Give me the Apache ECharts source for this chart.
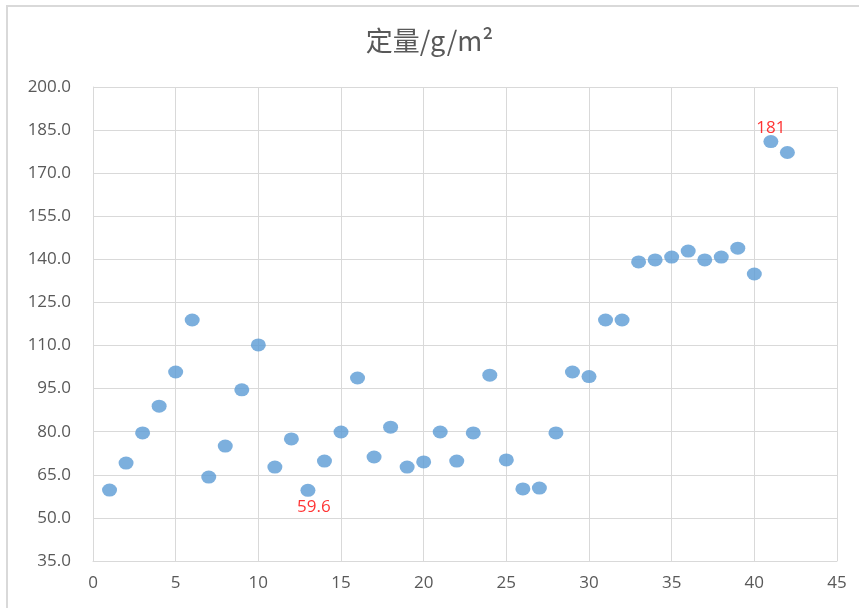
<!DOCTYPE html>
<html>
<head>
<meta charset="utf-8">
<script src="https://cdn.jsdelivr.net/npm/echarts@6/dist/echarts.min.js"></script>
<style>html,body{margin:0;padding:0;background:#fff}#c{width:859px;height:608px}</style>
</head>
<body>
<div id="c"></div>
<script>
var titleText = '定量/g/m²';
var xValues = [1,2,3,4,5,6,7,8,9,10,11,12,13,14,15,16,17,18,19,20,21,22,23,24,25,26,27,28,29,30,31,32,33,34,35,36,37,38,39,40,41,42];
var yValues = [59.7,69.1,79.6,88.9,100.8,118.9,64.2,75.0,94.6,110.2,67.7,77.5,59.6,69.8,79.9,98.7,71.2,81.6,67.7,69.5,79.9,69.8,79.6,99.7,70.2,60.1,60.4,79.6,100.8,99.2,118.9,118.9,139.1,139.8,140.8,142.9,139.8,140.8,143.9,134.9,181,177.2];
var labelledPoints = {12: 'bottom', 40: 'top'};

var data = xValues.map(function (x, i) {
  var d = {value: [x, yValues[i]]};
  if (labelledPoints[i]) {
    d.label = {show: true, position: labelledPoints[i], distance: labelledPoints[i] === 'top' ? -2 : 2,
      offset: labelledPoints[i] === 'top' ? [0, 0] : [6, 0],
      color: '#ff0000', fontSize: 17, fontFamily: 'Open Sans',
      formatter: String(yValues[i])};
  }
  return d;
});

var chart = echarts.init(document.getElementById('c'));
chart.setOption({
  animation: false,
  backgroundColor: '#fff',
  graphic: [{type: 'rect', shape: {x: 7, y: 6, width: 900, height: 650},
    style: {fill: 'none', stroke: '#d9d9d9', lineWidth: 2}}],
  title: {text: titleText, left: 'center', top: 22,
    textStyle: {fontFamily: 'Noto Sans CJK SC', fontSize: 27, fontWeight: 'normal', color: '#595959'}},
  grid: {left: 93, right: 22, top: 87, bottom: 47},
  xAxis: {type: 'value', min: 0, max: 45, interval: 5,
    axisLine: {show: true, lineStyle: {color: '#d9d9d9'}},
    axisTick: {show: false},
    splitLine: {show: true, lineStyle: {color: '#d9d9d9'}},
    axisLabel: {color: '#595959', fontSize: 17, fontFamily: 'Open Sans', margin: 14}},
  yAxis: {type: 'value', min: 35, max: 200, interval: 15,
    axisLine: {show: true, lineStyle: {color: '#d9d9d9'}},
    axisTick: {show: false},
    splitLine: {show: true, lineStyle: {color: '#d9d9d9'}},
    axisLabel: {color: '#595959', fontSize: 17, fontFamily: 'Open Sans', margin: 22,
      formatter: function (v) { return v.toFixed(1); }}},
  series: [{type: 'scatter', data: data, symbol: 'circle', symbolSize: [15, 13],
    itemStyle: {color: '#5b9bd5'}}]
});
</script>
</body>
</html>
